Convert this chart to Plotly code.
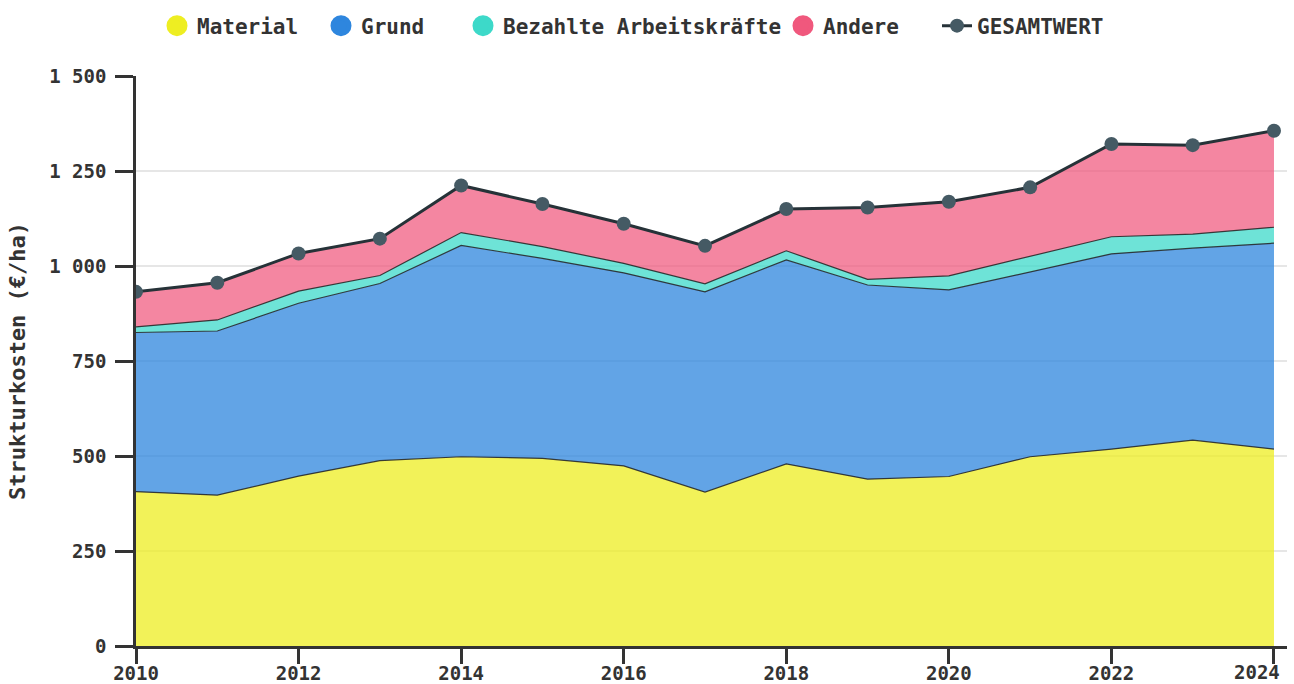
import plotly.graph_objects as go

years = list(range(2010, 2025))
material = [406, 397, 447, 488, 498, 494, 474, 405, 479, 439, 446, 498, 518, 542, 518]
grund = [419, 432, 455, 466, 556, 526, 508, 527, 537, 511, 491, 487, 514, 505, 542]
arbeit = [15, 29, 32, 21, 34, 31, 25, 21, 24, 15, 37, 40, 45, 37, 42]
andere = [92, 98, 99, 97, 124, 112, 104, 100, 110, 189, 195, 182, 244, 234, 254]
gesamt = [932, 956, 1033, 1072, 1212, 1163, 1111, 1053, 1150, 1154, 1169, 1207, 1321, 1318, 1356]

names = ["Material", "Grund", "Bezahlte Arbeitskräfte", "Andere"]
series = [material, grund, arbeit, andere]
colors = ["#eeee22", "#2e86de", "#3dd9c9", "#f0587d"]
fills = ["rgba(238,238,34,0.75)", "rgba(46,134,222,0.75)", "rgba(61,217,201,0.75)", "rgba(240,88,125,0.72)"]
x_tick_vals = list(range(2010, 2025, 2))
x_tick_text = [str(v) for v in x_tick_vals[:-1]] + [""]

FONT = "DejaVu Sans Mono"
# legend text start positions (px in container)
legend_px = [197, 361, 503, 823, 977]
legend_ids = ["legend", "legend2", "legend3", "legend4", "legend5"]

fig = go.Figure()

for n, s, f in zip(names, series, fills):
    fig.add_trace(go.Scatter(
        x=years, y=s, name=n, mode="lines", stackgroup="one",
        line=dict(color="rgba(30,30,30,0.85)", width=1.2),
        fillcolor=f, showlegend=False, hoverinfo="x+y+name"))

for n, c, lid in zip(names, colors, legend_ids[:4]):
    fig.add_trace(go.Scatter(
        x=[None], y=[None], name=n, mode="markers", legend=lid,
        marker=dict(color=c, size=16, symbol="circle", line=dict(color=c, width=5))))

fig.add_trace(go.Scatter(
    x=years, y=gesamt, name="GESAMTWERT", mode="lines+markers", legend="legend5",
    line=dict(color="#263238", width=3),
    marker=dict(color="#455a64", size=14)))

leg_common = dict(orientation="h", xref="container", xanchor="left",
                  yref="container", y=1 - 26 / 684, yanchor="middle",
                  font=dict(family=FONT, size=21, color="#333333", weight="bold"),
                  itemsizing="trace", bgcolor="rgba(0,0,0,0)", borderwidth=0)

layout_legends = {}
for lid, px in zip(legend_ids, legend_px):
    layout_legends[lid] = dict(leg_common, x=(px - 40) / 1294)

fig.update_layout(
    width=1294, height=684,
    paper_bgcolor="white", plot_bgcolor="white",
    margin=dict(l=136, r=7, t=76, b=38),
    separators=". ",
    font=dict(family=FONT, color="#333333", size=19, weight="bold"),
    showlegend=True,
    **layout_legends,
)

fig.add_annotation(
    x=2024, y=0, xref="x", yref="paper", text="2024", showarrow=False,
    xanchor="center", yanchor="top", xshift=-17, yshift=-14, borderpad=0,
    font=dict(family=FONT, size=19, color="#333333", weight="bold"))

fig.update_xaxes(
    range=[2010, 2024.16], tickmode="array", tickvals=x_tick_vals, ticktext=x_tick_text,
    showgrid=False, zeroline=False, automargin=False,
    showline=True, linecolor="#333333", linewidth=2.5,
    ticks="outside", ticklen=15, tickwidth=2.5, tickcolor="#333333",
    ticklabelstandoff=-7,
    tickfont=dict(family=FONT, size=19, color="#333333", weight="bold"))

fig.update_yaxes(
    range=[0, 1500], tickmode="linear", tick0=0, dtick=250, tickformat=",d",
    showgrid=True, gridcolor="#e6e6e6", gridwidth=1.5, zeroline=False, automargin=False,
    showline=True, linecolor="#333333", linewidth=2.5,
    ticks="outside", ticklen=18, tickwidth=2.5, tickcolor="#333333",
    ticklabelstandoff=5,
    tickfont=dict(family=FONT, size=19, color="#333333", weight="bold"),
    title=dict(text="Strukturkosten (€/ha)", standoff=18,
               font=dict(family=FONT, size=22, color="#333333", weight="bold")))

fig.write_html("out.html", config={"displayModeBar": False},
               post_script="document.body.style.margin='0';document.body.style.overflow='hidden';")
